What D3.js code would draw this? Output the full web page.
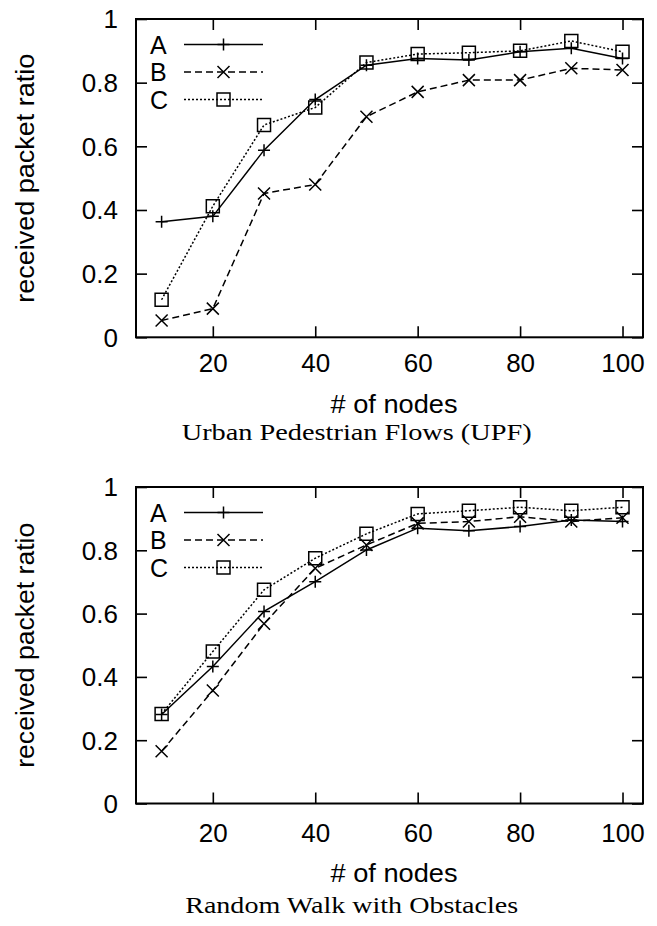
<!DOCTYPE html>
<html>
<head>
<meta charset="utf-8">
<script src="https://cdn.jsdelivr.net/npm/d3@7"></script>
<style>
  html, body { margin: 0; padding: 0; background: #fff; }
  svg { display: block; }
  text { fill: #000; }
</style>
</head>
<body>
<svg id="chart" width="657" height="926"></svg>
<script>
// ---------------- data ----------------
const nodeCounts = [10, 20, 30, 40, 50, 60, 70, 80, 90, 100];
const seriesNames = ["A", "B", "C"];

// Urban Pedestrian Flows (UPF)
const upfA = [0.363, 0.380, 0.588, 0.747, 0.855, 0.876, 0.871, 0.897, 0.908, 0.876];
const upfB = [0.053, 0.090, 0.452, 0.480, 0.693, 0.771, 0.808, 0.808, 0.845, 0.840];
const upfC = [0.118, 0.412, 0.667, 0.722, 0.863, 0.890, 0.894, 0.900, 0.931, 0.897];

// Random Walk with Obstacles
const rwoA = [0.281, 0.433, 0.607, 0.701, 0.801, 0.870, 0.862, 0.875, 0.896, 0.891];
const rwoB = [0.165, 0.357, 0.568, 0.743, 0.817, 0.885, 0.891, 0.906, 0.891, 0.903];
const rwoC = [0.283, 0.480, 0.675, 0.775, 0.852, 0.915, 0.925, 0.936, 0.925, 0.936];

const yTicks = [0, 0.2, 0.4, 0.6, 0.8, 1];
const yTickLabels = ["0", "0.2", "0.4", "0.6", "0.8", "1"];
const xTicks = [20, 40, 60, 80, 100];
const xTickLabels = ["20", "40", "60", "80", "100"];

const xTitle = "# of nodes";
const yTitle = "received packet ratio";
const panelTitles = ["Urban Pedestrian Flows (UPF)", "Random Walk with Obstacles"];

// ---------------- layout ----------------
const panels = [
  { series: [upfA, upfB, upfC], title: panelTitles[0],
    top: 19, bottom: 337.3, xPad: 16, xTitleY: 413.3, titleX: 356.7, titleY: 440, titleLen: 350, yTitleLen: 249 },
  { series: [rwoA, rwoB, rwoC], title: panelTitles[1],
    top: 487, bottom: 803.5, xPad: 20, xTitleY: 881.7, titleX: 351.7, titleY: 913.3, titleLen: 333, yTitleLen: 245 }
];
const plotLeft = 136, plotRight = 643;
const sans = "'Liberation Sans', Arial, Helvetica, sans-serif";
const serif = "'Liberation Serif', 'Times New Roman', serif";
const styles = [
  { dash: null, marker: "plus" },
  { dash: "7,4", marker: "times" },
  { dash: "2,2", marker: "square" }
];

function markerPath(type, cx, cy) {
  if (type === "plus") return `M${cx - 6},${cy}H${cx + 6}M${cx},${cy - 6}V${cy + 6}`;
  if (type === "times") return `M${cx - 6},${cy - 6}L${cx + 6},${cy + 6}M${cx - 6},${cy + 6}L${cx + 6},${cy - 6}`;
  const s = 6.5;
  return `M${cx - s},${cy - s}H${cx + s}V${cy + s}H${cx - s}Z`;
}

const svg = d3.select("#chart");
svg.append("rect").attr("width", 657).attr("height", 926).attr("fill", "#fff");

const x = d3.scaleLinear().domain([5, 104]).range([plotLeft, plotRight]);

panels.forEach(p => {
  const y = d3.scaleLinear().domain([0, 1]).range([p.bottom, p.top]);
  const g = svg.append("g");

  // axes (inward ticks on all four sides)
  const left = g.append("g").attr("transform", `translate(${plotLeft},0)`)
    .call(d3.axisLeft(y).tickValues(yTicks).tickFormat((d, i) => yTickLabels[i])
      .tickSize(-11).tickPadding(18));
  const right = g.append("g").attr("transform", `translate(${plotRight},0)`)
    .call(d3.axisRight(y).tickValues(yTicks).tickFormat("").tickSize(-11));
  const bottom = g.append("g").attr("transform", `translate(0,${p.bottom})`)
    .call(d3.axisBottom(x).tickValues(xTicks).tickFormat((d, i) => xTickLabels[i])
      .tickSize(-11).tickPadding(p.xPad));
  const top = g.append("g").attr("transform", `translate(0,${p.top})`)
    .call(d3.axisTop(x).tickValues(xTicks).tickFormat("").tickSize(-11));
  [left, right, bottom, top].forEach(a => {
    a.select(".domain").remove();
    a.selectAll(".tick line").attr("stroke", "#000").attr("stroke-width", 1.6);
    a.selectAll("text").attr("font-family", sans).attr("font-size", 26).attr("fill", "#000");
  });
  left.selectAll("text").attr("dy", "0.34em");

  // border
  g.append("rect").attr("x", plotLeft).attr("y", p.top)
    .attr("width", plotRight - plotLeft).attr("height", p.bottom - p.top)
    .attr("fill", "none").attr("stroke", "#000").attr("stroke-width", 2);

  // series
  p.series.forEach((vals, si) => {
    const st = styles[si];
    const pts = nodeCounts.map((n, i) => [n, vals[i]]);
    g.append("path").datum(pts)
      .attr("d", d3.line().x(d => x(d[0])).y(d => y(d[1])))
      .attr("fill", "none").attr("stroke", "#000").attr("stroke-width", 1.5)
      .attr("stroke-dasharray", st.dash);
    g.append("g").selectAll("path").data(pts).join("path")
      .attr("d", d => markerPath(st.marker, x(d[0]), y(d[1])))
      .attr("fill", "none").attr("stroke", "#000").attr("stroke-width", 1.5);
  });

  // legend
  const legOffsets = [25.5, 53, 80.5];
  seriesNames.forEach((name, si) => {
    const st = styles[si];
    const ly = p.top + legOffsets[si];
    g.append("text").attr("x", 150).attr("y", ly + 9)
      .attr("font-family", sans).attr("font-size", 25).text(name);
    g.append("line").attr("x1", 184).attr("x2", 263).attr("y1", ly).attr("y2", ly)
      .attr("stroke", "#000").attr("stroke-width", 1.5).attr("stroke-dasharray", st.dash);
    g.append("path").attr("d", markerPath(st.marker, 223.5, ly))
      .attr("fill", "none").attr("stroke", "#000").attr("stroke-width", 1.5);
  });

  // axis titles
  const cy = (p.top + p.bottom) / 2;
  g.append("text").attr("transform", `translate(34,${cy}) rotate(-90)`)
    .attr("text-anchor", "middle").attr("font-family", sans).attr("font-size", 25)
    .attr("textLength", p.yTitleLen).attr("lengthAdjust", "spacingAndGlyphs")
    .text(yTitle);
  g.append("text").attr("x", 394).attr("y", p.xTitleY)
    .attr("text-anchor", "middle").attr("font-family", sans).attr("font-size", 25)
    .attr("textLength", 127).attr("lengthAdjust", "spacingAndGlyphs")
    .text(xTitle);
  g.append("text").attr("x", p.titleX).attr("y", p.titleY)
    .attr("text-anchor", "middle").attr("font-family", serif).attr("font-size", 24)
    .attr("textLength", p.titleLen).attr("lengthAdjust", "spacingAndGlyphs")
    .text(p.title);
});
</script>
</body>
</html>
